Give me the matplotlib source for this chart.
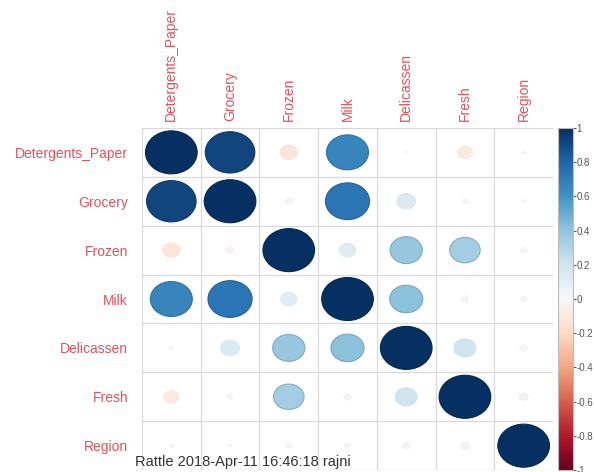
import numpy as np
import matplotlib.pyplot as plt
from matplotlib.patches import Ellipse
from matplotlib import colors, cm

plt.rcParams['font.family'] = ['Liberation Sans', 'DejaVu Sans']

labels = ['Detergents_Paper', 'Grocery', 'Frozen', 'Milk', 'Delicassen', 'Fresh', 'Region']

# upper triangle of the correlation matrix, row by row
upper = {
    ('Detergents_Paper', 'Grocery'): 0.92,
    ('Detergents_Paper', 'Frozen'): -0.13,
    ('Detergents_Paper', 'Milk'): 0.66,
    ('Detergents_Paper', 'Delicassen'): 0.01,
    ('Detergents_Paper', 'Fresh'): -0.10,
    ('Detergents_Paper', 'Region'): -0.01,
    ('Grocery', 'Frozen'): -0.03,
    ('Grocery', 'Milk'): 0.73,
    ('Grocery', 'Delicassen'): 0.15,
    ('Grocery', 'Fresh'): -0.02,
    ('Grocery', 'Region'): 0.01,
    ('Frozen', 'Milk'): 0.12,
    ('Frozen', 'Delicassen'): 0.39,
    ('Frozen', 'Fresh'): 0.35,
    ('Frozen', 'Region'): -0.02,
    ('Milk', 'Delicassen'): 0.41,
    ('Milk', 'Fresh'): 0.03,
    ('Milk', 'Region'): 0.02,
    ('Delicassen', 'Fresh'): 0.20,
    ('Delicassen', 'Region'): 0.03,
    ('Fresh', 'Region'): 0.04,
}

n = len(labels)
corr = np.eye(n)
for (a, b), v in upper.items():
    i, j = labels.index(a), labels.index(b)
    corr[i, j] = v
    corr[j, i] = v

fig = plt.figure(figsize=(5.94, 4.72), dpi=100)
ax = fig.add_axes([0.239, 0.004, 0.692, 0.725])
cax = fig.add_axes([0.939, 0.004, 0.025, 0.725])

cmap = plt.get_cmap('RdBu')
norm = colors.Normalize(-1, 1)

# grid cells
for k in range(n + 1):
    ax.axvline(k - 0.5, color='#d9d9d9', lw=0.9)
    ax.axhline(k - 0.5, color='#d9d9d9', lw=0.9)

for i in range(n):
    for j in range(n):
        v = corr[i, j]
        r = 0.44 * np.sqrt(abs(v))
        c = cmap(norm(v))
        if abs(v) > 0.3:
            edge = tuple(np.array(c[:3]) * 0.85)
        else:
            edge = 'none'
        ax.add_patch(Ellipse((j, i), 2 * r, 2 * r, facecolor=c,
                             edgecolor=edge, lw=0.8))

ax.set_xlim(-0.5, n - 0.5)
ax.set_ylim(n - 0.5, -0.5)
ax.set_aspect('auto')
for s in ax.spines.values():
    s.set_visible(False)

ax.set_xticks(range(n))
ax.set_xticklabels(labels, rotation=90, color='#e5505a', fontsize=10)
ax.xaxis.tick_top()
ax.set_yticks(range(n))
ax.set_yticklabels(labels, color='#e5505a', fontsize=10)
ax.tick_params(length=0, pad=5)
ax.tick_params(axis='y', pad=10)

cb = fig.colorbar(cm.ScalarMappable(norm=norm, cmap=cmap), cax=cax)
cb.set_ticks(np.linspace(-1, 1, 11))
cb.set_ticklabels(['-1', '-0.8', '-0.6', '-0.4', '-0.2', '0', '0.2', '0.4', '0.6', '0.8', '1'])
cb.ax.tick_params(labelsize=7, colors='#555555', length=2, pad=1)
cb.outline.set_edgecolor('#bbbbbb')

fig.text(0.228, 0.012, 'Rattle 2018-Apr-11 16:46:18 rajni', fontsize=10.5, color='#333333')

fig.savefig('out.png', dpi=100)
